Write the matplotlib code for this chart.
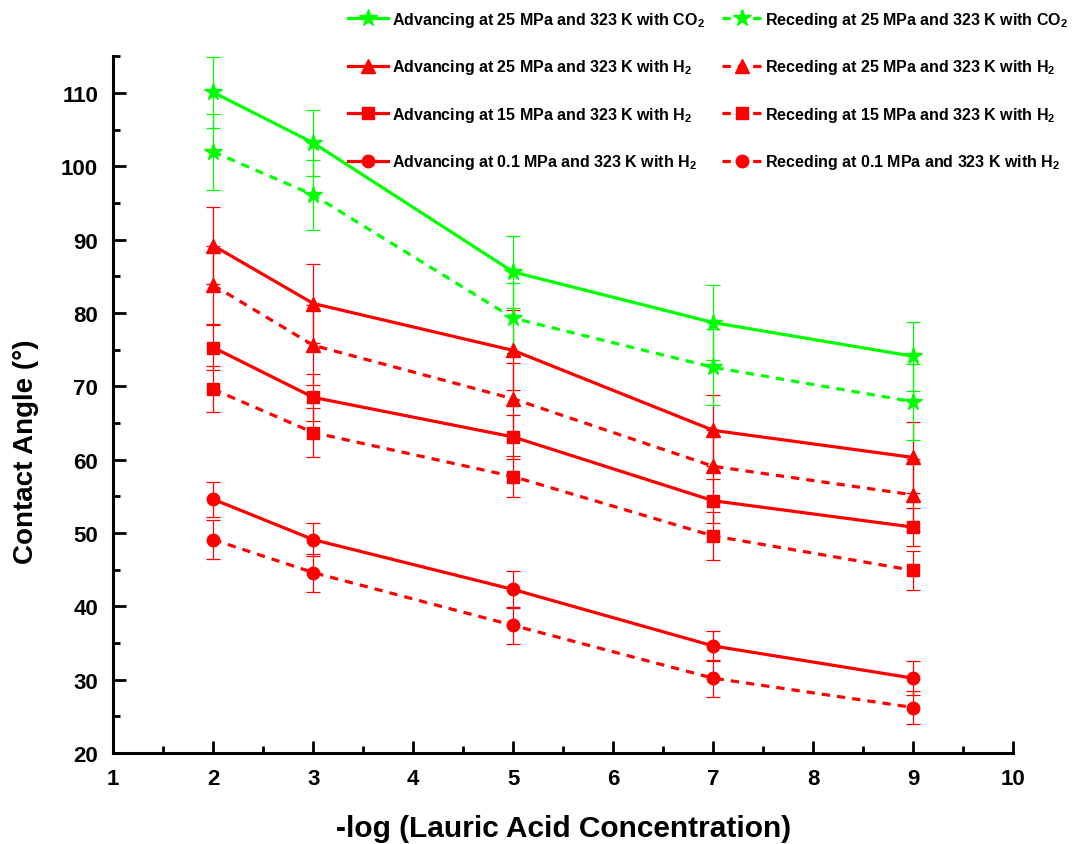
import matplotlib
matplotlib.use("Agg")
import matplotlib.pyplot as plt
from matplotlib.ticker import MultipleLocator

plt.rcParams['font.family'] = ['Liberation Sans', 'DejaVu Sans']
plt.rcParams['font.weight'] = 'bold'
plt.rcParams['mathtext.fontset'] = 'custom'
plt.rcParams['mathtext.rm'] = 'Liberation Sans:bold'
plt.rcParams['mathtext.it'] = 'Liberation Sans:bold'
plt.rcParams['mathtext.bf'] = 'Liberation Sans:bold'

x = [2, 3, 5, 7, 9]

adv_co2_25 = [110.1, 103.2, 85.6, 78.7, 74.1]
rec_co2_25 = [102.0, 96.1, 79.3, 72.6, 67.9]
adv_h2_25 = [89.2, 81.3, 74.9, 64.0, 60.3]
rec_h2_25 = [83.8, 75.6, 68.3, 59.1, 55.2]
adv_h2_15 = [75.3, 68.5, 63.1, 54.4, 50.8]
rec_h2_15 = [69.6, 63.7, 57.7, 49.6, 44.9]
adv_h2_01 = [54.6, 49.1, 42.3, 34.6, 30.2]
rec_h2_01 = [49.1, 44.6, 37.4, 30.2, 26.2]

err_adv_co2_25 = [4.8, 4.5, 4.9, 5.1, 4.7]
err_rec_co2_25 = [5.2, 4.8, 4.8, 5.2, 5.2]
err_adv_h2_25 = [5.2, 5.45, 5.45, 4.8, 4.85]
err_rec_h2_25 = [5.3, 5.45, 4.9, 4.9, 4.9]
err_adv_h2_15 = [3.1, 3.2, 3.0, 3.0, 2.6]
err_rec_h2_15 = [3.15, 3.4, 2.8, 3.3, 2.7]
err_adv_h2_01 = [2.4, 2.3, 2.5, 2.1, 2.3]
err_rec_h2_01 = [2.7, 2.6, 2.5, 2.5, 2.3]

labels_adv = [
    'Advancing at 25 MPa and 323 K with CO$_2$',
    'Advancing at 25 MPa and 323 K with H$_2$',
    'Advancing at 15 MPa and 323 K with H$_2$',
    'Advancing at 0.1 MPa and 323 K with H$_2$',
]
labels_rec = [
    'Receding at 25 MPa and 323 K with CO$_2$',
    'Receding at 25 MPa and 323 K with H$_2$',
    'Receding at 15 MPa and 323 K with H$_2$',
    'Receding at 0.1 MPa and 323 K with H$_2$',
]

GREEN = '#00ff00'
RED = '#ff0000'

fig = plt.figure(figsize=(10.74, 8.45), dpi=100)
ax = fig.add_axes([113.3 / 1074, (845 - 754) / 845, 900 / 1074, 696.6 / 845])

series_adv = [
    (adv_co2_25, err_adv_co2_25, GREEN, '*', 13),
    (adv_h2_25, err_adv_h2_25, RED, '^', 10),
    (adv_h2_15, err_adv_h2_15, RED, 's', 8),
    (adv_h2_01, err_adv_h2_01, RED, 'o', 9),
]
series_rec = [
    (rec_co2_25, err_rec_co2_25, GREEN, '*', 13),
    (rec_h2_25, err_rec_h2_25, RED, '^', 10),
    (rec_h2_15, err_rec_h2_15, RED, 's', 8),
    (rec_h2_01, err_rec_h2_01, RED, 'o', 9),
]

handles_adv = []
handles_rec = []
for (y, e, c, m, ms), lab in zip(series_adv, labels_adv):
    ax.errorbar(x, y, yerr=e, fmt='none', ecolor=c, elinewidth=0.9,
                capsize=4.8, capthick=0.9, zorder=2)
    h, = ax.plot(x, y, color=c, lw=2.3, ls='-', marker=m, ms=ms,
                 mec=c, mfc=c, zorder=3, label=lab)
    handles_adv.append(h)
for (y, e, c, m, ms), lab in zip(series_rec, labels_rec):
    ax.errorbar(x, y, yerr=e, fmt='none', ecolor=c, elinewidth=0.9,
                capsize=4.8, capthick=0.9, zorder=2)
    h, = ax.plot(x, y, color=c, lw=2.3, ls=(0, (2.6, 2.2)), marker=m, ms=ms,
                 mec=c, mfc=c, zorder=3, label=lab)
    handles_rec.append(h)

ax.set_xlim(1, 10)
ax.set_ylim(20, 115)
ax.xaxis.set_major_locator(MultipleLocator(1))
ax.xaxis.set_minor_locator(MultipleLocator(0.5))
ax.yaxis.set_major_locator(MultipleLocator(10))
ax.yaxis.set_minor_locator(MultipleLocator(5))
ax.set_yticks(range(20, 111, 10))

for s in ['top', 'right']:
    ax.spines[s].set_visible(False)
for s in ['left', 'bottom']:
    ax.spines[s].set_linewidth(2.2)
    ax.spines[s].set_color('black')

ax.tick_params(which='major', direction='in', length=9, width=2, labelsize=16, pad=11)
ax.tick_params(which='minor', direction='in', length=5, width=2)
for lbl in ax.get_xticklabels() + ax.get_yticklabels():
    lbl.set_fontweight('bold')

ax.set_xlabel('-log (Lauric Acid Concentration)', fontsize=21.5, fontweight='bold')
ax.set_ylabel('Contact Angle (°)', fontsize=20, fontweight='bold')
ax.xaxis.set_label_coords(0.5, -0.087)
ax.yaxis.set_label_coords(-0.082, 0.434)

handles = handles_adv + handles_rec
leg = fig.legend(handles=handles, labels=labels_adv + labels_rec, ncol=2,
                 loc='upper left', bbox_to_anchor=(348 / 1074, 1 - 11 / 845),
                 bbox_transform=fig.transFigure, frameon=False,
                 prop={'size': 11.5, 'weight': 'bold'}, handlelength=2.5,
                 handletextpad=0.25, columnspacing=1.05, labelspacing=1.78,
                 borderpad=0, borderaxespad=0)

fig.savefig('out.png', dpi=100)
